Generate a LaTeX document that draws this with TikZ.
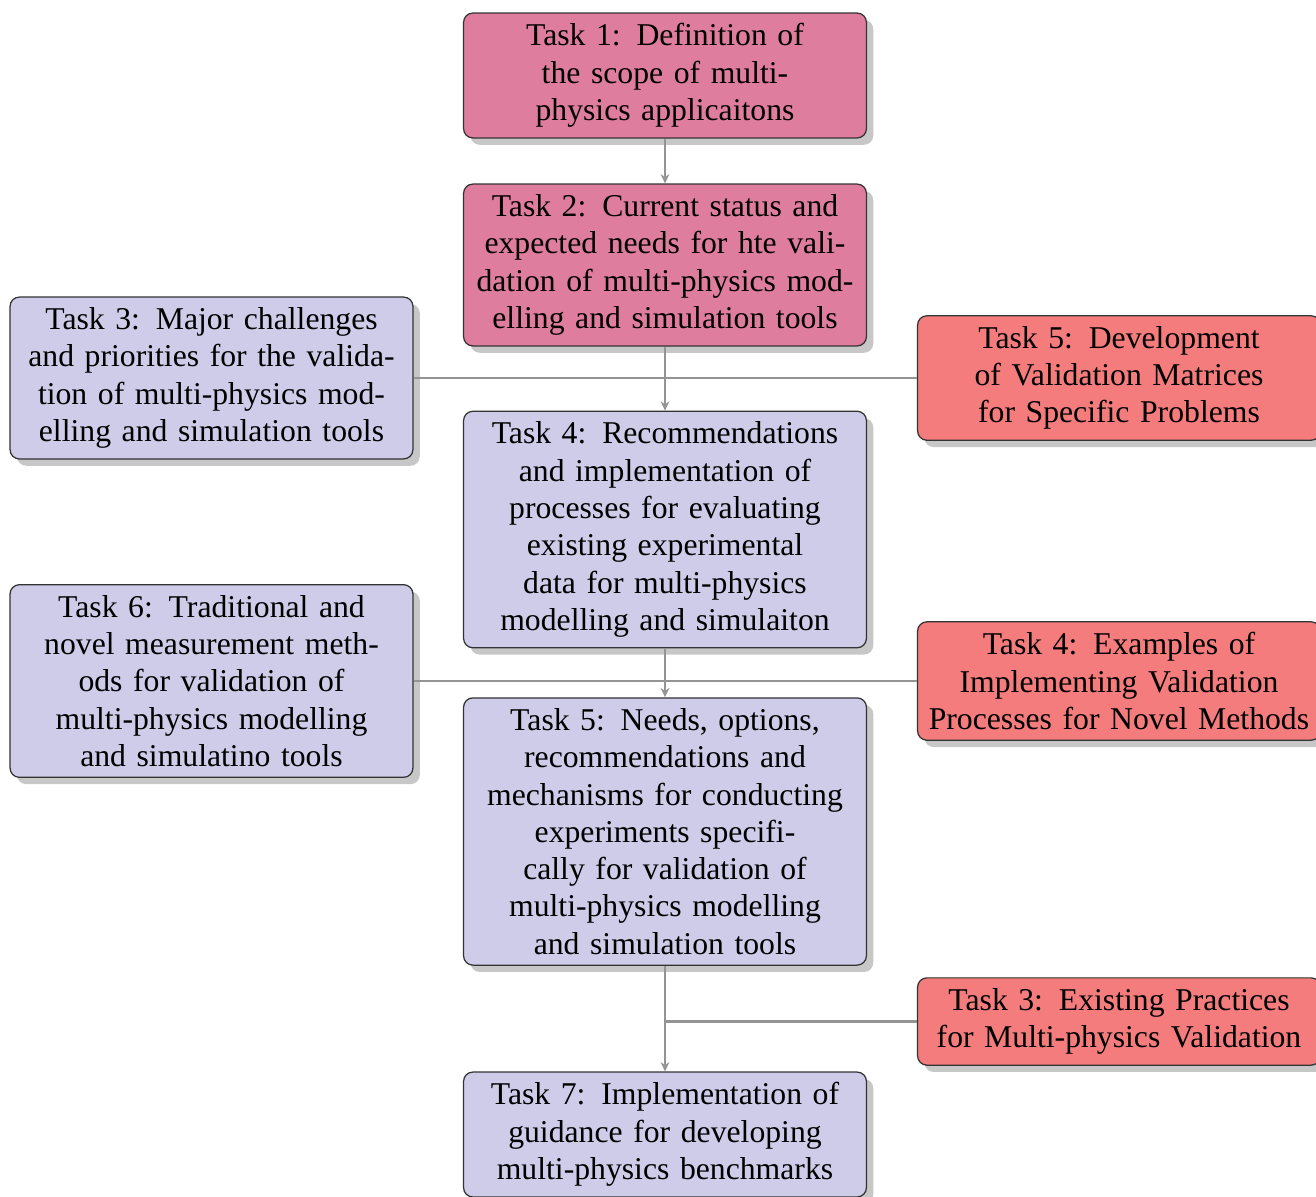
\documentclass[tikz,border=0pt]{standalone}
\usepackage{fontspec}
\setmainfont{Liberation Serif}
\usetikzlibrary{shadows,arrows.meta}
\definecolor{tpink}{RGB}{223,125,158}
\definecolor{tlav}{RGB}{206,204,232}
\definecolor{tred}{RGB}{244,124,124}
\begin{document}
\begin{tikzpicture}[x=0.3217pt,y=-0.3217pt,
  task/.style={draw=black!80, rounded corners=3pt, text width=124.4pt, align=center,
    inner xsep=2.6pt, inner ysep=3.4pt, line width=0.4pt, font=\fontsize{10.2}{12}\selectfont,
    drop shadow={shadow xshift=2.2pt,shadow yshift=-2.2pt,fill=black!22,opacity=1}},
  pinkbox/.style={task, fill=tpink},
  lavbox/.style={task, fill=tlav},
  redbox/.style={task, fill=tred},
  link/.style={draw=black!42, line width=0.7pt},
  arr/.style={link, -{Stealth[length=3pt,width=2.8pt]}}]
\useasboundingbox (0,0) rectangle (1316,1196);
\node[pinkbox] (t1) at (665,75.5) {Task 1: Definition of the scope of multi-physics applicaitons};
\node[pinkbox] (t2) at (665,265) {Task 2: Current status and expected needs for hte validation of multi-physics modelling and simulation tools};
\node[lavbox] (t4) at (665,529.5) {Task 4: Recommendations and implementation of processes for evaluating existing experimental data for multi-physics modelling and simulaiton};
\node[lavbox] (t5) at (665,831.5) {Task 5: Needs, options, recommendations and mechanisms for conducting experiments specifically for validation of multi-physics modelling and simulation tools};
\node[lavbox] (t7) at (665,1134.5) {Task 7: Implementation of guidance for developing multi-physics benchmarks};
\node[lavbox] (l3) at (211.5,378) {Task 3: Major challenges and priorities for the validation of multi-physics modelling and simulation tools};
\node[lavbox] (l6) at (211.5,681) {Task 6: Traditional and novel measurement methods for validation of multi-physics modelling and simulatino tools};
\node[redbox] (r5) at (1119,378) {Task 5: Development of Validation Matrices for Specific Problems};
\node[redbox] (r4) at (1119,681) {Task 4: Examples of Implementing Validation Processes for Novel Methods};
\node[redbox] (r3) at (1119,1021.5) {Task 3: Existing Practices for Multi-physics Validation};
\draw[link] (l3.east) -- (r5.west);
\draw[link] (l6.east) -- (r4.west);
\draw[link] (r3.west) -- (r3.west -| t7.north);
\draw[arr] (t1.south) -- (t2.north);
\draw[arr] (t2.south) -- (t4.north);
\draw[arr] (t4.south) -- (t5.north);
\draw[arr] (t5.south) -- (t7.north);
\end{tikzpicture}
\end{document}
